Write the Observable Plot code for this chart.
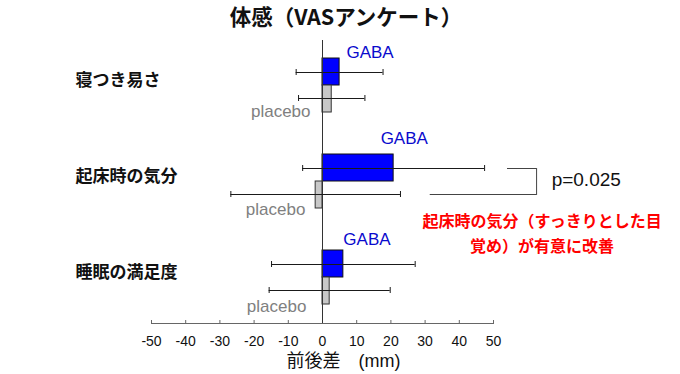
<!DOCTYPE html>
<html><head><meta charset="utf-8">
<script src="https://cdn.jsdelivr.net/npm/d3@7"></script>
<script src="https://cdn.jsdelivr.net/npm/@observablehq/plot@0.6"></script>
<style>
body{margin:0;background:#fff;}
#title{width:680px;height:30px;line-height:30px;box-sizing:border-box;padding-left:12px;text-align:center;font:bold 21.5px "Noto Sans CJK JP",sans-serif;color:#111;}
</style></head><body>
<div id="title">体感（VASアンケート）</div>
<div id="chart"></div>
<script>
// ---- data ----
const categories = ["寝つき易さ", "起床時の気分", "睡眠の満足度"];
const gabaMean = [5.0, 20.8, 6.1];
const gabaSD = [12.7, 26.6, 21.0];
const placeboMean = [2.7, -2.0, 2.1];
const placeboSD = [9.7, 24.8, 17.7];
const xTicks = [-50, -40, -30, -20, -10, 0, 10, 20, 30, 40, 50];
const xTickLabels = ["-50", "-40", "-30", "-20", "-10", "0", "10", "20", "30", "40", "50"];
const seriesNames = ["GABA", "placebo"];
const xTitle = "前後差　(mm)";
const pText = "p=0.025";
const noteText = "起床時の気分（すっきりとした目\n覚め）が有意に改善";
// annotation placement (data units / pixel nudges)
const gabaLabelX = [7.0, 17.0, 6.1];
const gabaLabelDy = [-32.5, -43, -37.5];
const placeboLabelX = [-3.5, -5.0, -4.7];
const placeboLabelDy = [26, 28.4, 29];
const bracket = {cat: "起床時の気分", upperFrom: 54.1, lowerFrom: 31.5, at: 62.6};
const pX = 67.0;
const noteX = 64.2;

const gaba = categories.map((c, i) => ({category: c, mean: gabaMean[i], lo: gabaMean[i] - gabaSD[i], hi: gabaMean[i] + gabaSD[i]}));
const placebo = categories.map((c, i) => ({category: c, mean: placeboMean[i], lo: placeboMean[i] - placeboSD[i], hi: placeboMean[i] + placeboSD[i]}));

const BLUE = "#0000ff", GRAY = "#c8c8c8";
const half = 27;
const ERR = "#1a1a1a";

const labelMarks = [];
categories.forEach((c, i) => {
  labelMarks.push(Plot.text([{category: c, x: gabaLabelX[i]}], {x: "x", y: "category", text: () => seriesNames[0], dy: gabaLabelDy[i], textAnchor: "start", fontSize: 17, fill: "#0a0acd"}));
  labelMarks.push(Plot.text([{category: c, x: placeboLabelX[i]}], {x: "x", y: "category", text: () => seriesNames[1], dy: placeboLabelDy[i], textAnchor: "end", fontSize: 17, fill: "#808080"}));
});

const chart = Plot.plot({
  width: 680,
  height: 344,
  marginLeft: 151,
  marginRight: 187,
  marginTop: 10,
  marginBottom: 51,
  style: {fontFamily: "'Liberation Sans', Arial, 'Noto Sans CJK JP', sans-serif", background: "#fff", color: "#111"},
  x: {domain: [-50, 50]},
  y: {domain: categories, range: [7, 295], paddingInner: 0.4375, paddingOuter: 0.21875, axis: null},
  marks: [
    Plot.frame({anchor: "bottom", stroke: "#666"}),
    Plot.ruleX(xTicks, {x: d => d, insetTop: 280, stroke: "#666"}),
    Plot.axisX({ticks: xTicks, tickFormat: d => xTickLabels[xTicks.indexOf(d)], tickSize: 0, tickPadding: 13, fontSize: 14, label: null, fill: "#111"}),
    Plot.barX(gaba, {y: "category", x: "mean", fill: BLUE, stroke: "#111", strokeWidth: 1, insetBottom: half}),
    Plot.barX(placebo, {y: "category", x: "mean", fill: GRAY, stroke: "#333", strokeWidth: 1, insetTop: half}),
    Plot.ruleX([0], {stroke: "#333"}),
    Plot.ruleY(gaba, {y: "category", x1: "lo", x2: "hi", dy: -13, stroke: ERR}),
    Plot.tickX(gaba, {y: "category", x: "lo", insetTop: 11, insetBottom: 37, stroke: ERR}),
    Plot.tickX(gaba, {y: "category", x: "hi", insetTop: 11, insetBottom: 37, stroke: ERR}),
    Plot.ruleY(placebo, {y: "category", x1: "lo", x2: "hi", dy: 13, stroke: ERR}),
    Plot.tickX(placebo, {y: "category", x: "lo", insetTop: 37, insetBottom: 11, stroke: ERR}),
    Plot.tickX(placebo, {y: "category", x: "hi", insetTop: 37, insetBottom: 11, stroke: ERR}),
    Plot.text(categories, {y: d => d, text: d => d, frameAnchor: "left", dx: -76, dy: -5, textAnchor: "start", fontWeight: "bold", fontSize: 17, fill: "#111", fontFamily: "'Noto Sans CJK JP', sans-serif"}),
    ...labelMarks,
    // significance bracket
    Plot.ruleY([bracket], {y: "cat", x1: "upperFrom", x2: "at", dy: -13, stroke: "#444"}),
    Plot.ruleY([bracket], {y: "cat", x1: "lowerFrom", x2: "at", dy: 13, stroke: "#444"}),
    Plot.tickX([bracket], {x: "at", y: "cat", insetTop: 14, insetBottom: 13, stroke: "#444"}),
    Plot.text([bracket], {x: () => pX, y: "cat", text: () => pText, dy: -2, textAnchor: "start", fontSize: 19, fill: "#111"}),
    Plot.text([bracket], {x: () => noteX, y: "cat", text: () => noteText, dy: 49.5, textAnchor: "middle", lineHeight: 1.5625, fontSize: 16, fontWeight: "bold", fill: "#f00", fontFamily: "'Noto Sans CJK JP', sans-serif"}),
    Plot.text([xTitle], {frameAnchor: "bottom", text: d => d, dx: 21, dy: 43, fontSize: 18, fill: "#111", fontFamily: "'Liberation Sans', 'Noto Sans CJK JP', sans-serif"})
  ]
});
document.getElementById("chart").appendChild(chart);
</script>
</body></html>
